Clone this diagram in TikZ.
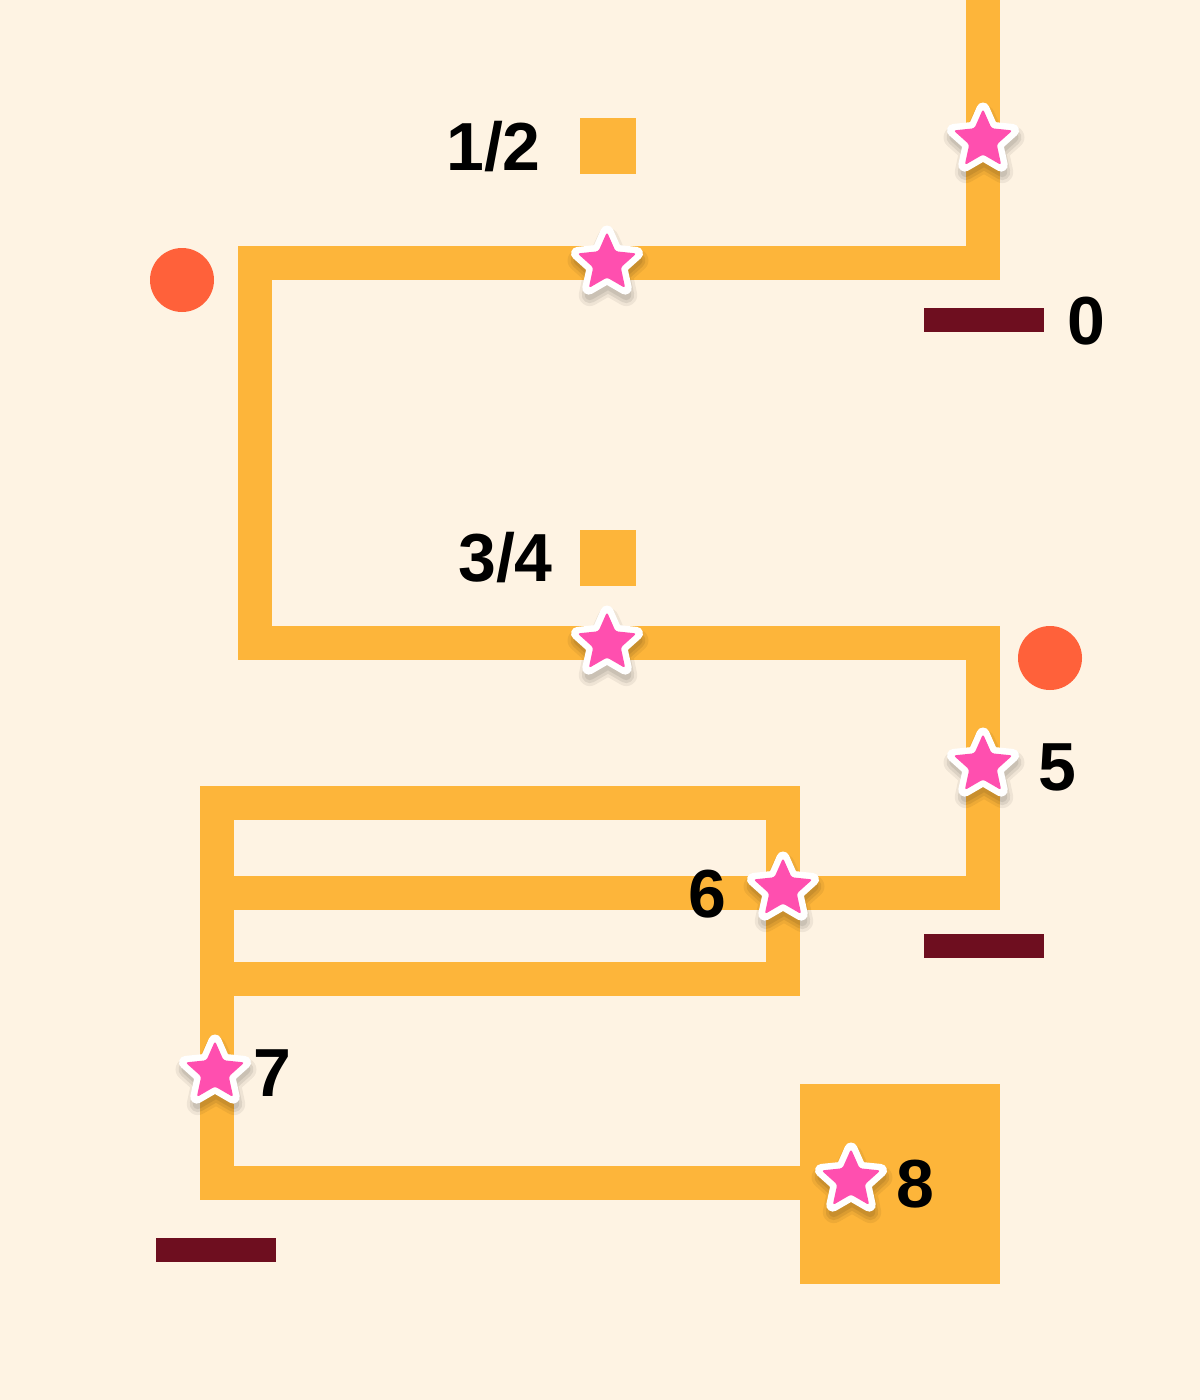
\documentclass[tikz,border=0pt]{standalone}
\usepackage{fontspec}
\setmainfont{Liberation Sans}
\definecolor{bgc}{HTML}{FEF3E3}
\definecolor{track}{HTML}{FDB53A}
\definecolor{starpink}{HTML}{FF4FAF}
\definecolor{dotred}{HTML}{FF613A}
\definecolor{barred}{HTML}{6E0E1F}
\newcommand{\starshape}{(-90:31) -- (-54:14.5) -- (-18:31) -- (18:14.5) -- (54:31) -- (90:14.5) -- (126:31) -- (162:14.5) -- (198:31) -- (234:14.5) -- cycle}
\tikzset{
  trackline/.style={draw=track, line width=34pt, line cap=butt, line join=miter},
  starpic/.pic={
    \begin{scope}[shift={(1,7)}]
      \draw[black, opacity=0.06, line width=22pt, line join=round] \starshape;
      \draw[black, opacity=0.08, line width=16pt, line join=round] \starshape;
      \draw[black, opacity=0.08, line width=10pt, line join=round] \starshape;
    \end{scope}
    \draw[white, line width=13pt, line join=round, fill=white] \starshape;
    \fill[starpink, rounded corners=2.5pt] \starshape;
    \coordinate (-c) at (0,0);
  },
  lab/.style={font=\bfseries\fontsize{68}{68}\selectfont, text=black, inner sep=0pt},
  bar/.style={fill=barred, draw=none},
  dot/.style={circle, fill=dotred, minimum size=64pt, inner sep=0pt},
  sq/.style={fill=track, draw=none}
}
\begin{document}
\begin{tikzpicture}[x=1pt,y=-1pt]
\fill[bgc] (0,0) rectangle (1200,1400);
\useasboundingbox (0,0) rectangle (1200,1400);
% coordinates of the track
\coordinate (t0) at (983,0);
\coordinate (t1) at (983,263);
\coordinate (t2) at (255,263);
\coordinate (t3) at (255,643);
\coordinate (t4) at (983,643);
\coordinate (t5) at (983,893);
\coordinate (t6) at (217,893);
\coordinate (r1) at (217,803);
\coordinate (r2) at (783,979);
\coordinate (u1) at (217,979);
\coordinate (u2) at (217,1183);
\coordinate (u3) at (801,1183);
% track
\draw[trackline] (t0) -- (t1) -- (t2) -- (t3) -- (t4) -- (t5) -- (t6);
\draw[trackline] (r1) rectangle (r2);
\draw[trackline] (u1) -- (u2) -- (u3);
% big square and small squares
\fill[sq] (800,1084) rectangle (1000,1284);
\node[sq, minimum size=56pt, inner sep=0pt] (s12) at (608,146) {};
\node[sq, minimum size=56pt, inner sep=0pt] (s34) at (608,558) {};
% circles
\node[dot] (c1) at (182,280) {};
\node[dot] (c2) at (1050,658) {};
% bars
\fill[bar] (924,308) rectangle (1044,332);
\fill[bar] (924,934) rectangle (1044,958);
\fill[bar] (156,1238) rectangle (276,1262);
% stars
\pic (st0) at (983,140) {starpic};
\pic (st12) at (607,263) {starpic};
\pic (st34) at (607,643) {starpic};
\pic (st5) at (983,765) {starpic};
\pic (st6) at (783,889) {starpic};
\pic (st7) at (215,1072) {starpic};
\pic (st8) at (851,1180) {starpic};
% labels
\node[lab, anchor=base east] (l12) at (541,170) {1/2};
\node[lab, anchor=base] (l0) at (1086,344) {0};
\node[lab, anchor=base east] (l34) at (553,581) {3/4};
\node[lab, anchor=base] (l5) at (1057,790) {5};
\node[lab, anchor=base] (l6) at (707,917) {6};
\node[lab, anchor=base] (l7) at (272,1096) {7};
\node[lab, anchor=base] (l8) at (915,1207) {8};
\end{tikzpicture}
\end{document}
